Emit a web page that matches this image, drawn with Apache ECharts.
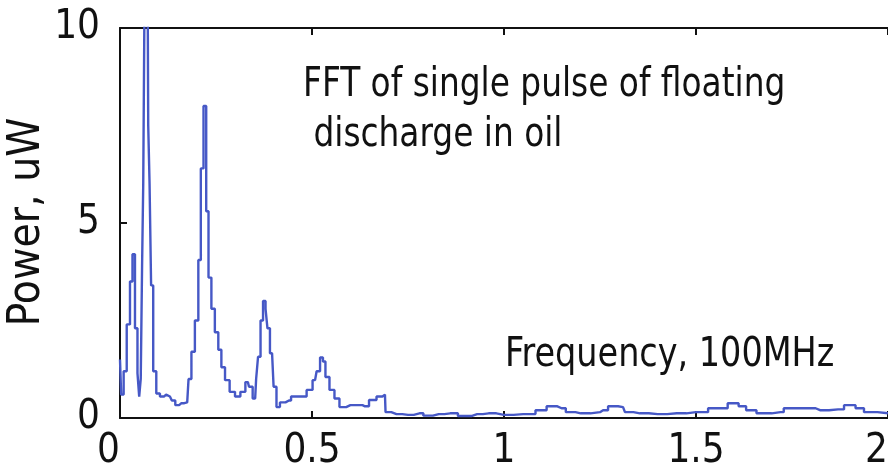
<!DOCTYPE html>
<html>
<head>
<meta charset="utf-8">
<script src="https://cdn.jsdelivr.net/npm/echarts@6/dist/echarts.min.js"></script>
<style>
  html, body { margin: 0; padding: 0; background: #fff; }
  #chart { width: 888px; height: 467px; }
</style>
</head>
<body>
<div id="chart"></div>
<script>
// Frequency (units of 100 MHz) and spectral power (uW) of one floating-discharge pulse
const freq = [
  0.000, 0.006, 0.013, 0.022, 0.030, 0.035, 0.043, 0.048, 0.052, 0.056, 0.059,
  0.062, 0.066, 0.072, 0.075, 0.079, 0.083, 0.090, 0.099, 0.109, 0.120, 0.130,
  0.140, 0.148, 0.160, 0.175, 0.182, 0.190, 0.200, 0.208, 0.213, 0.222, 0.227,
  0.234, 0.242, 0.252, 0.260, 0.268, 0.279, 0.292, 0.307, 0.320, 0.333, 0.339,
  0.352, 0.357, 0.362, 0.370, 0.375, 0.383, 0.385, 0.396, 0.404, 0.411, 0.422,
  0.440, 0.451, 0.477, 0.495, 0.508, 0.516, 0.526, 0.531, 0.539, 0.552, 0.565,
  0.578, 0.600, 0.625, 0.638, 0.659, 0.677, 0.690, 0.693, 0.720, 0.750, 0.780,
  0.800, 0.830, 0.860, 0.900, 0.930, 0.960, 1.000, 1.050, 1.070, 1.094, 1.128,
  1.150, 1.172, 1.200, 1.250, 1.258, 1.284, 1.310, 1.320, 1.354, 1.400, 1.450,
  1.500, 1.563, 1.602, 1.620, 1.641, 1.674, 1.720, 1.737, 1.800, 1.823, 1.870,
  1.901, 1.930, 1.945, 2.000
];
const power = [
  1.5, 0.6, 1.2, 2.4, 3.5, 4.2, 2.3, 1.15, 0.55, 1.0, 3.9,
  6.0, 11, 11, 7.5, 6.0, 3.4, 1.2, 0.63, 0.55, 0.6, 0.55,
  0.45, 0.33, 0.38, 0.4, 1.0, 1.7, 2.5, 4.05, 6.4, 8.0, 5.3,
  3.6, 2.8, 2.2, 1.75, 1.3, 0.97, 0.67, 0.55, 0.67, 0.92, 0.8,
  0.5, 1.0, 1.57, 2.5, 3.0, 2.8, 2.3, 1.66, 0.8, 0.28, 0.4,
  0.45, 0.55, 0.55, 0.72, 0.97, 1.2, 1.55, 1.45, 1.05, 0.72, 0.5,
  0.28, 0.33, 0.33, 0.3, 0.46, 0.55, 0.6, 0.15, 0.1, 0.08, 0.12,
  0.06, 0.1, 0.12, 0.05, 0.1, 0.12, 0.08, 0.1, 0.1, 0.2, 0.3,
  0.25, 0.15, 0.12, 0.15, 0.2, 0.3, 0.28, 0.15, 0.12, 0.1, 0.12,
  0.15, 0.25, 0.38, 0.3, 0.2, 0.12, 0.15, 0.25, 0.25, 0.2, 0.22,
  0.33, 0.25, 0.15, 0.12
];
const xTicks = [0, 0.5, 1, 1.5, 2];
const yTicks = [0, 5, 10];
const titleLines = ['FFT of single pulse of floating', ' discharge in oil'];
const xTitle = 'Frequency, 100MHz';
const yTitle = 'Power, uW';

const FONT = '"DejaVu Sans Condensed", "Liberation Sans", sans-serif';
const INK = '#111';

const chart = echarts.init(document.getElementById('chart'), null, { renderer: 'canvas' });

const frameAxis = {
  axisLine: { show: true, lineStyle: { color: INK, width: 2 } },
  axisTick: { show: true, inside: true, length: 7, lineStyle: { color: INK, width: 2 } },
  splitLine: { show: false }
};

chart.setOption({
  animation: false,
  backgroundColor: '#fff',
  grid: {
    left: 120, right: 0, top: 28, bottom: 49,
    containLabel: false, outerBoundsMode: 'none'
  },
  xAxis: [
    Object.assign({
      type: 'value', min: 0, max: 2, interval: 0.5, position: 'bottom',
      axisLabel: {
        show: true, margin: 14, color: INK, fontFamily: FONT, fontSize: 40,
        alignMinLabel: 'right', alignMaxLabel: 'right', hideOverlap: false,
        formatter: v => (xTicks.indexOf(v) >= 0 ? String(v) : '')
      }
    }, frameAxis),
    Object.assign({
      type: 'value', min: 0, max: 2, interval: 0.5, position: 'top',
      axisLabel: { show: false }
    }, frameAxis)
  ],
  yAxis: Object.assign({
    type: 'value', min: 0, max: 10, interval: 5,
    axisLabel: {
      show: true, margin: 20, color: INK, fontFamily: FONT, fontSize: 40,
      formatter: v => (yTicks.indexOf(v) >= 0 ? String(v) : '')
    }
  }, frameAxis),
  series: [{
    type: 'line',
    xAxisIndex: 0,
    data: freq.map((f, i) => [f, power[i]]),
    step: 'middle',
    showSymbol: false,
    clip: true,
    lineStyle: { color: '#4658c6', width: 2.4 }
  }],
  graphic: [
    {
      type: 'text', x: 303, y: 60, scaleX: 0.89,
      style: {
        text: titleLines.join('\n'), fill: INK, font: '41px ' + FONT, lineHeight: 50
      }
    },
    {
      type: 'text', x: 505, y: 336, scaleX: 0.93,
      style: { text: xTitle, fill: INK, font: '40px ' + FONT }
    },
    {
      type: 'text', x: 28, y: 222, rotation: Math.PI / 2,
      style: {
        text: yTitle, fill: INK, font: '44px ' + FONT,
        textAlign: 'center', textVerticalAlign: 'middle'
      }
    }
  ]
});
</script>
</body>
</html>
